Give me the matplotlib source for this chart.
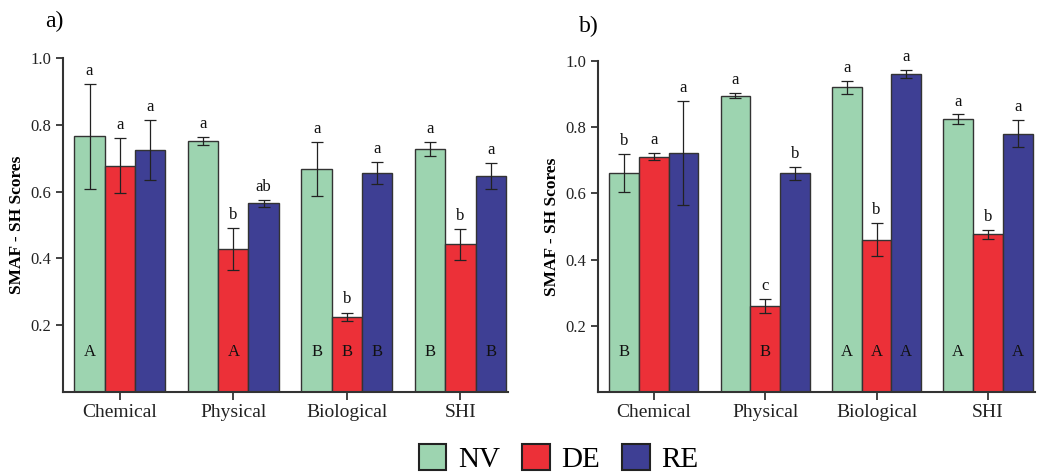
import matplotlib
matplotlib.use("Agg")
import matplotlib.pyplot as plt
import numpy as np
from matplotlib.patches import Patch

plt.rcParams['font.family'] = ['Liberation Serif', 'DejaVu Serif']

categories = ["Chemical", "Physical", "Biological", "SHI"]
series = ["NV", "DE", "RE"]

# Panel a
a_NV = [0.765, 0.752, 0.668, 0.728]
a_DE = [0.677, 0.428, 0.226, 0.442]
a_RE = [0.724, 0.565, 0.655, 0.647]
a_NV_err = [0.158, 0.012, 0.081, 0.020]
a_DE_err = [0.082, 0.064, 0.012, 0.046]
a_RE_err = [0.090, 0.010, 0.033, 0.040]
a_NV_low = ["a", "a", "a", "a"]
a_DE_low = ["a", "b", "b", "b"]
a_RE_low = ["a", "ab", "a", "a"]
a_NV_up = ["A", "", "B", "B"]
a_DE_up = ["", "A", "B", ""]
a_RE_up = ["", "", "B", "B"]

# Panel b
b_NV = [0.662, 0.895, 0.920, 0.824]
b_DE = [0.711, 0.260, 0.460, 0.476]
b_RE = [0.722, 0.660, 0.960, 0.780]
b_NV_err = [0.058, 0.008, 0.020, 0.014]
b_DE_err = [0.011, 0.020, 0.050, 0.013]
b_RE_err = [0.158, 0.020, 0.012, 0.041]
b_NV_low = ["b", "a", "a", "a"]
b_DE_low = ["a", "c", "b", "b"]
b_RE_low = ["a", "b", "a", "a"]
b_NV_up = ["B", "", "A", "A"]
b_DE_up = ["", "B", "A", ""]
b_RE_up = ["", "", "A", "A"]

colors = ["#9dd4b0", "#ec3038", "#3e3f94"]
edge = "#333333"

fig = plt.figure(figsize=(10.4, 4.72), dpi=100)
axA = fig.add_axes([0.0606, 0.1695, 0.428, 0.7076])
axB = fig.add_axes([0.575, 0.1695, 0.42, 0.7016])

def draw(ax, vals, errs, lows, ups, ylab_pad):
    x = np.arange(len(categories))
    w = 0.2667
    for i, (v, e, lo, up) in enumerate(zip(vals, errs, lows, ups)):
        pos = x + (i - 1) * w
        ax.bar(pos, v, width=w, color=colors[i], edgecolor=edge, linewidth=1.0, zorder=2)
        ax.errorbar(pos, v, yerr=e, fmt='none', ecolor='#222222', elinewidth=0.9,
                    capsize=4, capthick=0.9, zorder=3)
        for p, vv, ee, l, u in zip(pos, v, e, lo, up):
            if l:
                ax.text(p, vv + ee + 0.015, l, ha='center', va='bottom', fontsize=12, color='#111111')
            if u:
                ax.text(p, 0.12, u, ha='center', va='center', fontsize=12, color='#111111')
    ax.set_xlim(-0.5, 3.42)
    ax.set_ylim(0, 1.0)
    ax.set_yticks([0.2, 0.4, 0.6, 0.8, 1.0])
    ax.set_yticklabels(["0.2", "0.4", "0.6", "0.8", "1.0"])
    ax.set_xticks(x)
    ax.set_xticklabels(categories, fontsize=14)
    ax.tick_params(axis='y', labelsize=12, direction='out', length=5, width=1.2, colors='#222222')
    ax.tick_params(axis='x', direction='out', length=6, width=1.2, colors='#222222', pad=3)
    for s in ['top', 'right']:
        ax.spines[s].set_visible(False)
    for s in ['left', 'bottom']:
        ax.spines[s].set_linewidth(1.5)
        ax.spines[s].set_color('#333333')
    ax.set_ylabel("SMAF - SH Scores", fontsize=12.5, fontweight='bold', labelpad=ylab_pad)

draw(axA, [a_NV, a_DE, a_RE], [a_NV_err, a_DE_err, a_RE_err],
     [a_NV_low, a_DE_low, a_RE_low], [a_NV_up, a_DE_up, a_RE_up], 4)
draw(axB, [b_NV, b_DE, b_RE], [b_NV_err, b_DE_err, b_RE_err],
     [b_NV_low, b_DE_low, b_RE_low], [b_NV_up, b_DE_up, b_RE_up], 4)

fig.text(0.043, 0.955, "a)", fontsize=17, ha='left', va='center')
fig.text(0.557, 0.945, "b)", fontsize=17, ha='left', va='center')

handles = [Patch(facecolor=c, edgecolor='#222222', linewidth=1.5) for c in colors]
fig.legend(handles, series, loc='center', bbox_to_anchor=(0.537, 0.028), ncol=3,
           frameon=False, fontsize=21, handlelength=0.95, handleheight=0.95,
           columnspacing=0.75, handletextpad=0.4, borderpad=0.1)

fig.savefig("out.png", dpi=100)
